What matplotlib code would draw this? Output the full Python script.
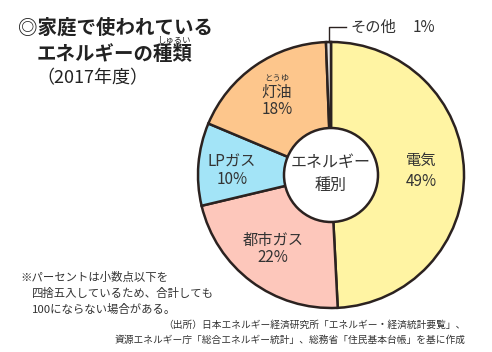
import matplotlib.pyplot as plt
from matplotlib.patches import Circle

plt.rcParams['font.family'] = ['Noto Sans CJK JP', 'DejaVu Sans']

# データ（時計回り、上から）
categories = ['電気', '都市ガス', 'LPガス', '灯油', 'その他']
shares = [49, 22, 10, 18, 0.6]   # その他は図上では細い帯（表示は1%）
labels = ['49%', '22%', '10%', '18%', '1%']
colors = ['#fff4a3', '#fdc7bb', '#a3e4f7', '#fdc68c', '#e6e6e6']

W, H = 492, 352
fig = plt.figure(figsize=(W / 100, H / 100), dpi=100)
ax = fig.add_axes([0, 0, 1, 1])

def y(py):
    # ピクセル座標（上から）をデータ座標へ
    return H - py

cx, cy, r = 331, y(175), 133
edge = '#2b2220'
txt = '#333333'

ax.pie(shares, colors=colors, startangle=90, counterclock=False,
       center=(cx, cy), radius=r,
       wedgeprops=dict(edgecolor=edge, linewidth=1.8))
ax.add_patch(Circle((cx, cy), 47, facecolor='white', edgecolor=edge, linewidth=1.8, zorder=5))

ax.set_xlim(0, W)
ax.set_ylim(0, H)
ax.set_aspect('equal')
ax.axis('off')

# タイトル
ax.text(18, y(28), '◎家庭で使われている', fontsize=14, fontweight='bold', color='#222', va='center')
ax.text(37, y(55), 'エネルギーの種類', fontsize=14, fontweight='bold', color='#222', va='center')
ax.text(174, y(41), 'しゅるい', fontsize=6, color='#222', ha='center', va='center')
ax.text(36, y(78), '（2017年度）', fontsize=13, color='#222', va='center')

# 各ラベル
ax.text(421, y(160), categories[0], fontsize=11, color=txt, ha='center', va='center')
ax.text(421, y(181), labels[0], fontsize=11, color=txt, ha='center', va='center')
ax.text(273, y(240), categories[1], fontsize=11, color=txt, ha='center', va='center')
ax.text(273, y(258), labels[1], fontsize=11, color=txt, ha='center', va='center')
ax.text(232, y(162), categories[2], fontsize=11, color=txt, ha='center', va='center')
ax.text(232, y(180), labels[2], fontsize=11, color=txt, ha='center', va='center')
ax.text(277, y(78), 'とうゆ', fontsize=6, color=txt, ha='center', va='center')
ax.text(277, y(92), categories[3], fontsize=11, color=txt, ha='center', va='center')
ax.text(277, y(110), labels[3], fontsize=11, color=txt, ha='center', va='center')
ax.text(cx, y(163), 'エネルギー', fontsize=11.5, color=txt, ha='center', va='center', zorder=6)
ax.text(cx, y(185), '種別', fontsize=11.5, color=txt, ha='center', va='center', zorder=6)

# その他の引き出し線
ax.plot([329, 329, 346], [y(42), y(27), y(27)], color=edge, linewidth=1)
ax.text(350, y(27), categories[4], fontsize=11, color=txt, va='center')
ax.text(413, y(27), labels[4], fontsize=11, color=txt, va='center')

# 注記
ax.text(20, y(277), '※パーセントは小数点以下を', fontsize=8.2, color=txt, va='center')
ax.text(32, y(293), '四捨五入しているため、合計しても', fontsize=8.2, color=txt, va='center')
ax.text(32, y(309), '100にならない場合がある。', fontsize=8.2, color=txt, va='center')
ax.text(163, y(325), '（出所）日本エネルギー経済研究所「エネルギー・経済統計要覧」、', fontsize=7, color=txt, va='center')
ax.text(115, y(340), '資源エネルギー庁「総合エネルギー統計」、総務省「住民基本台帳」を基に作成', fontsize=7, color=txt, va='center')

fig.savefig('out.png', dpi=100)
